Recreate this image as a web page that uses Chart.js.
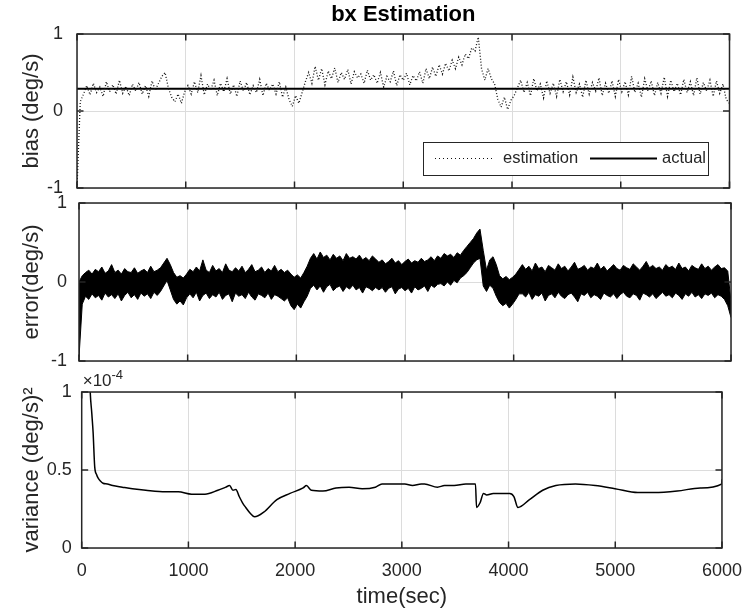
<!DOCTYPE html>
<html>
<head>
<meta charset="utf-8">
<title>bx Estimation</title>
<script src="https://cdn.jsdelivr.net/npm/chart.js@4.4.1/dist/chart.umd.min.js"></script>
<style>
  body { margin: 0; background: #fff; }
  #wrap { position: relative; width: 754px; height: 615px; overflow: hidden; }
  canvas { position: absolute; left: 0; }
</style>
</head>
<body>
<div id="wrap">
  <canvas id="biasChart" width="754" height="200" style="top:0px"></canvas>
  <canvas id="errorChart" width="754" height="183" style="top:190px"></canvas>
  <canvas id="varChart" width="754" height="245" style="top:370px"></canvas>
</div>
<script>
// sample times (sec) for the estimation / error traces
const timeSec = [
  0, 30, 60, 90, 120, 150, 180, 210, 240, 270, 300, 330, 360, 390, 420, 450, 480, 510, 540, 570,
  600, 630, 660, 690, 720, 750, 780, 810, 840, 870, 900, 930, 960, 990, 1020, 1050, 1080, 1110, 1140, 1170,
  1200, 1230, 1260, 1290, 1320, 1350, 1380, 1410, 1440, 1470, 1500, 1530, 1560, 1590, 1620, 1650, 1680, 1710, 1740, 1770,
  1800, 1830, 1860, 1890, 1920, 1950, 1980, 2010, 2040, 2070, 2100, 2130, 2160, 2190, 2220, 2250, 2280, 2310, 2340, 2370,
  2400, 2430, 2460, 2490, 2520, 2550, 2580, 2610, 2640, 2670, 2700, 2730, 2760, 2790, 2820, 2850, 2880, 2910, 2940, 2970,
  3000, 3030, 3060, 3090, 3120, 3150, 3180, 3210, 3240, 3270, 3300, 3330, 3360, 3390, 3420, 3450, 3480, 3510, 3540, 3570,
  3600, 3630, 3660, 3690, 3720, 3750, 3780, 3810, 3840, 3870, 3900, 3930, 3960, 3990, 4020, 4050, 4080, 4110, 4140, 4170,
  4200, 4230, 4260, 4290, 4320, 4350, 4380, 4410, 4440, 4470, 4500, 4530, 4560, 4590, 4620, 4650, 4680, 4710, 4740, 4770,
  4800, 4830, 4860, 4890, 4920, 4950, 4980, 5010, 5040, 5070, 5100, 5130, 5160, 5190, 5220, 5250, 5280, 5310, 5340, 5370,
  5400, 5430, 5460, 5490, 5520, 5550, 5580, 5610, 5640, 5670, 5700, 5730, 5760, 5790, 5820, 5850, 5880, 5910, 5940, 5970,
  6000
];

// bias estimate (deg/s)
const estimation = [
  -1.00, 0.12, 0.22,
  0.33, 0.21, 0.36, 0.24, 0.31, 0.19, 0.38, 0.25, 0.34, 0.22, 0.40, 0.23, 0.32, 0.20, 0.35, 0.26, 0.37, 0.22, 0.33, 0.19, 0.39, 0.27, 0.36,
  0.45, 0.50, 0.30,
  0.18, 0.12, 0.22, 0.10, 0.25,
  0.33, 0.22, 0.38, 0.24, 0.46, 0.21, 0.35, 0.27, 0.40, 0.20, 0.36, 0.25, 0.42, 0.22, 0.34, 0.19, 0.39, 0.26, 0.37, 0.21, 0.33, 0.24, 0.41, 0.20, 0.36, 0.27, 0.35, 0.22, 0.38, 0.18, 0.31,
  0.15, 0.06, 0.20, 0.10, 0.24, 0.38,
  0.50, 0.36, 0.58, 0.40, 0.55, 0.34, 0.52, 0.42, 0.56, 0.37, 0.50, 0.41, 0.54, 0.35, 0.51, 0.43, 0.48, 0.36, 0.53, 0.40, 0.47,
  0.36, 0.50, 0.31, 0.45, 0.38, 0.52, 0.33, 0.47, 0.40, 0.49, 0.34, 0.46, 0.39, 0.51, 0.36, 0.55, 0.42, 0.57, 0.45,
  0.60, 0.48, 0.62, 0.52, 0.66, 0.55, 0.70, 0.60,
  0.74, 0.68, 0.82, 0.78, 0.96,
  0.55, 0.40,
  0.55, 0.42, 0.35,
  0.15, 0.05, 0.18, 0.02, 0.14, 0.20, 0.30,
  0.40, 0.24, 0.37, 0.20, 0.42, 0.26, 0.35, 0.17, 0.39, 0.23, 0.36, 0.19, 0.41, 0.25, 0.38, 0.21, 0.44, 0.24, 0.35, 0.18, 0.40, 0.22, 0.37, 0.26, 0.43, 0.20, 0.36, 0.23, 0.39, 0.19, 0.41, 0.25,
  0.38, 0.21, 0.45, 0.24, 0.36, 0.18, 0.42, 0.26, 0.39, 0.20, 0.37, 0.23, 0.44, 0.19, 0.40, 0.25, 0.36, 0.21, 0.41, 0.24, 0.38, 0.20, 0.43, 0.22, 0.37, 0.26, 0.40, 0.19, 0.39, 0.23, 0.35, 0.15,
  0.10
];

// true bias (deg/s)
const actualTime = [0, 6000];
const actualBias = [0.29, 0.29];

// error (deg/s): upper and lower edge of the noisy band
const errUpper = [
  0.00,
  0.08, 0.12, 0.15, 0.10, 0.16, 0.13, 0.19, 0.11, 0.14, 0.22, 0.12, 0.15, 0.10, 0.17, 0.13, 0.12, 0.18, 0.11, 0.14, 0.16, 0.12, 0.20, 0.13, 0.15, 0.18,
  0.24, 0.30, 0.22,
  0.12, 0.06, 0.08, 0.05, 0.10,
  0.16, 0.13, 0.19, 0.14, 0.28, 0.15, 0.12, 0.21, 0.14, 0.17, 0.12, 0.23, 0.15, 0.13, 0.18, 0.14, 0.20, 0.12, 0.16, 0.22, 0.13, 0.15, 0.19, 0.12, 0.17, 0.14, 0.21, 0.13, 0.16, 0.12, 0.15,
  0.10, 0.06, 0.09, 0.05, 0.12, 0.20,
  0.30, 0.36, 0.29, 0.38, 0.31, 0.34, 0.28, 0.35, 0.30, 0.33, 0.27, 0.36, 0.30, 0.32, 0.29, 0.34, 0.28, 0.31, 0.27, 0.33, 0.29,
  0.25, 0.28, 0.23, 0.26, 0.30, 0.24, 0.27, 0.22, 0.26, 0.29, 0.24, 0.27, 0.25, 0.30, 0.26, 0.28, 0.32, 0.27, 0.33,
  0.30, 0.36, 0.33, 0.35, 0.31, 0.37, 0.34, 0.40,
  0.45, 0.50, 0.55, 0.62, 0.67,
  0.40, 0.15,
  0.28, 0.32, 0.22,
  0.08, 0.04, 0.07, 0.03, 0.06, 0.10, 0.16,
  0.22, 0.16, 0.20, 0.14, 0.24, 0.17, 0.19, 0.13, 0.21, 0.18, 0.15, 0.23, 0.17, 0.20, 0.14, 0.19, 0.25, 0.16, 0.18, 0.21, 0.15, 0.19, 0.17, 0.24, 0.16, 0.20, 0.14, 0.18, 0.22, 0.17, 0.15, 0.21,
  0.18, 0.16, 0.23, 0.19, 0.15, 0.20, 0.26, 0.18, 0.21, 0.17, 0.19, 0.15, 0.22, 0.18, 0.20, 0.16, 0.24, 0.17, 0.19, 0.14, 0.21, 0.18, 0.16, 0.23, 0.17, 0.20, 0.15, 0.19, 0.22, 0.17, 0.18, 0.14,
  -0.25
];
const errLower = [
  -0.95,
  -0.28, -0.18, -0.22, -0.15, -0.20, -0.17, -0.23, -0.14, -0.19, -0.16, -0.21, -0.15, -0.24, -0.17, -0.13, -0.20, -0.16, -0.22, -0.14, -0.18, -0.15, -0.21, -0.13, -0.17, -0.12,
  -0.05, 0.02, -0.10,
  -0.22, -0.28, -0.24, -0.29, -0.20,
  -0.15, -0.20, -0.13, -0.24, -0.17, -0.14, -0.21, -0.16, -0.19, -0.13, -0.22, -0.17, -0.15, -0.25, -0.14, -0.18, -0.16, -0.21, -0.13, -0.19, -0.23, -0.15, -0.17, -0.20, -0.14, -0.22, -0.16, -0.18, -0.21, -0.24, -0.20,
  -0.30, -0.35, -0.28, -0.33, -0.25, -0.18,
  -0.08, -0.04, -0.10, -0.05, -0.13, -0.06, -0.03, -0.11, -0.07, -0.05, -0.12, -0.06, -0.09, -0.04, -0.10, -0.07, -0.14, -0.06, -0.08, -0.11, -0.07,
  -0.10, -0.07, -0.13, -0.08, -0.06, -0.15, -0.09, -0.07, -0.11, -0.08, -0.14, -0.06, -0.10, -0.08, -0.05, -0.12, -0.04, -0.07, -0.03,
  -0.02, -0.05, 0.00, -0.04, 0.02, -0.01, 0.05, 0.08,
  0.12, 0.18, 0.24, 0.28, 0.30,
  -0.05, -0.12,
  -0.04, -0.08, -0.18,
  -0.26, -0.30, -0.27, -0.33, -0.28, -0.22, -0.15,
  -0.15, -0.19, -0.13, -0.22, -0.16, -0.18, -0.14, -0.24, -0.17, -0.15, -0.20, -0.13, -0.18, -0.21, -0.16, -0.14, -0.19, -0.25, -0.15, -0.17, -0.13, -0.20, -0.16, -0.18, -0.22, -0.14, -0.17, -0.19, -0.15, -0.21, -0.16, -0.13,
  -0.18, -0.20, -0.15, -0.17, -0.23, -0.14, -0.16, -0.19, -0.15, -0.21, -0.17, -0.13, -0.18, -0.16, -0.20, -0.14, -0.17, -0.22, -0.15, -0.18, -0.13, -0.19, -0.16, -0.21, -0.15, -0.17, -0.14, -0.20, -0.16, -0.18, -0.22, -0.30,
  -0.45
];

// variance, in units of 1e-4 (deg/s)^2
const varTime = [
  0, 60, 77, 95, 107, 122, 140, 153, 175, 200, 240, 290, 380, 475, 600, 785, 905, 1030, 1155, 1276,
  1350, 1386, 1417, 1445, 1476, 1507, 1537, 1583, 1620, 1706, 1829, 1952, 2075, 2106, 2152, 2260, 2383, 2506, 2629, 2752,
  2814, 2900, 3028, 3100, 3182, 3213, 3334, 3400, 3490, 3600, 3690, 3700, 3733, 3765, 3795, 3857, 3918, 4011, 4050, 4088,
  4196, 4320, 4443, 4627, 4812, 4997, 5212, 5366, 5581, 5796, 5996, 6000
];
const varianceE4 = [
  3.0, 1.6, 1.05, 0.86, 0.74, 0.52, 0.47, 0.45, 0.43, 0.415, 0.41, 0.40, 0.39, 0.38, 0.37, 0.36, 0.36, 0.345, 0.345, 0.37,
  0.39, 0.40, 0.37, 0.375, 0.33, 0.29, 0.26, 0.22, 0.20, 0.23, 0.31, 0.35, 0.385, 0.40, 0.37, 0.365, 0.385, 0.39, 0.38, 0.39,
  0.41, 0.41, 0.41, 0.40, 0.41, 0.41, 0.39, 0.40, 0.40, 0.41, 0.41, 0.26, 0.29, 0.35, 0.34, 0.35, 0.35, 0.35, 0.33, 0.26,
  0.31, 0.37, 0.40, 0.41, 0.40, 0.38, 0.355, 0.355, 0.365, 0.385, 0.41, 0.44
];

const FONT = '"Liberation Sans", Arial, Helvetica, sans-serif';
const GRID = '#dcdcdc';
const INK = '#262626';

Chart.defaults.font.family = FONT;
Chart.defaults.color = INK;

function xy(xs, ys) {
  return xs.map((x, i) => ({ x: x, y: ys[i] }));
}

// plain number labels (1000 not 1,000; 1 not 1.0)
function plainTick(value) {
  return String(value);
}

// matlab style box with inward ticks on all four sides
const matlabBox = {
  id: 'matlabBox',
  afterDatasetsDraw(chart) {
    const { ctx, chartArea: a, scales } = chart;
    const len = 6.5;
    ctx.save();
    ctx.strokeStyle = INK;
    ctx.lineWidth = 1.5;
    ctx.beginPath();
    scales.x.ticks.forEach(t => {
      const px = scales.x.getPixelForValue(t.value);
      ctx.moveTo(px, a.top); ctx.lineTo(px, a.top + len);
      ctx.moveTo(px, a.bottom); ctx.lineTo(px, a.bottom - len);
    });
    scales.y.ticks.forEach(t => {
      const py = scales.y.getPixelForValue(t.value);
      ctx.moveTo(a.left, py); ctx.lineTo(a.left + len, py);
      ctx.moveTo(a.right, py); ctx.lineTo(a.right - len, py);
    });
    ctx.stroke();
    ctx.strokeRect(a.left, a.top, a.right - a.left, a.bottom - a.top);
    ctx.restore();
  }
};

// legend box drawn inside the bias plot (bottom right)
const biasLegend = {
  id: 'biasLegend',
  afterDraw(chart) {
    const { ctx, chartArea: a } = chart;
    const est = chart.data.datasets[0];
    const act = chart.data.datasets[1];
    const w = 285, h = 33;
    const bx = Math.round(a.right - 21.5 - w), by = Math.round(a.bottom - 13 - h);
    const cy = by + h / 2;
    ctx.save();
    ctx.fillStyle = '#fff';
    ctx.fillRect(bx, by, w, h);
    ctx.strokeStyle = INK;
    ctx.lineWidth = 1;
    ctx.strokeRect(bx + 0.5, by + 0.5, w, h);
    ctx.font = '16.5px ' + FONT;
    ctx.fillStyle = INK;
    ctx.textBaseline = 'middle';
    ctx.strokeStyle = est.borderColor;
    ctx.lineWidth = 1;
    ctx.setLineDash([1, 3]);
    ctx.beginPath(); ctx.moveTo(bx + 12, cy); ctx.lineTo(bx + 72, cy); ctx.stroke();
    ctx.fillText(est.label, bx + 80, cy);
    ctx.setLineDash([]);
    ctx.strokeStyle = act.borderColor;
    ctx.lineWidth = act.borderWidth;
    ctx.beginPath(); ctx.moveTo(bx + 167, cy); ctx.lineTo(bx + 234, cy); ctx.stroke();
    ctx.fillText(act.label, bx + 239, cy);
    ctx.restore();
  }
};

// "x10^-4" multiplier above the variance axis
const exponentLabel = {
  id: 'exponentLabel',
  afterDraw(chart) {
    const { ctx, chartArea: a } = chart;
    ctx.save();
    ctx.fillStyle = INK;
    ctx.textBaseline = 'alphabetic';
    ctx.font = '17px ' + FONT;
    ctx.fillText('\u00d710', a.left + 1, a.top - 6);
    const w = ctx.measureText('\u00d710').width;
    ctx.font = '13px ' + FONT;
    ctx.fillText('-4', a.left + 1 + w, a.top - 13);
    ctx.restore();
  }
};

function timeAxis(height, showTicks) {
  return {
    type: 'linear',
    min: 0,
    max: 6000,
    afterFit: scale => { scale.height = height; },
    border: { display: false },
    grid: { color: GRID, drawTicks: false },
    ticks: { display: showTicks, stepSize: 1000, padding: 12, maxRotation: 0, font: { size: 18 }, callback: plainTick },
    title: { display: showTicks, text: 'time(sec)', font: { size: 22 }, padding: { top: 0, bottom: 5 } }
  };
}

function valueAxis(width, min, max, step, label, tickPad) {
  return {
    type: 'linear',
    min: min,
    max: max,
    // fixed width so the boxes sit where the subplots are; labels may overhang
    afterFit: scale => {
      scale.width = width;
      scale.paddingTop = 0;
      scale.paddingBottom = 0;
    },
    border: { display: false },
    grid: { color: GRID, drawTicks: false },
    ticks: { stepSize: step, padding: tickPad, font: { size: 18 }, callback: plainTick },
    title: { display: true, text: label, font: { size: 22 }, padding: { top: 19, bottom: 0 } }
  };
}

function baseOptions(padding) {
  return {
    responsive: false,
    animation: false,
    events: [],
    layout: { padding: padding },
    plugins: {
      legend: { display: false },
      tooltip: { enabled: false }
    }
  };
}

// top: bias estimation
const biasOpts = baseOptions({ left: 0, right: 24.5, top: 0, bottom: 12 });
biasOpts.plugins.title = {
  display: true,
  text: 'bx Estimation',
  color: '#000',
  fullSize: false,
  font: { size: 22, weight: 'bold' },
  padding: { top: 2, bottom: 5.6 }
};
biasOpts.scales = {
  x: timeAxis(0, false),
  y: valueAxis(77, -1, 1, 1, 'bias (deg/s)', 14)
};
new Chart(document.getElementById('biasChart'), {
  type: 'line',
  data: {
    datasets: [
      {
        label: 'estimation',
        data: xy(timeSec, estimation),
        borderColor: '#111',
        borderWidth: 1.3,
        borderDash: [1, 2],
        pointRadius: 0,
        tension: 0
      },
      {
        label: 'actual',
        data: xy(actualTime, actualBias),
        borderColor: '#000',
        borderWidth: 2,
        pointRadius: 0
      }
    ]
  },
  options: biasOpts,
  plugins: [matlabBox, biasLegend]
});

// middle: estimation error
const errOpts = baseOptions({ left: 0, right: 23, top: 13, bottom: 12 });
errOpts.scales = {
  x: timeAxis(0, false),
  y: valueAxis(79, -1, 1, 1, 'error(deg/s)', 12)
};
new Chart(document.getElementById('errorChart'), {
  type: 'line',
  data: {
    datasets: [
      {
        label: 'error upper',
        data: xy(timeSec, errUpper),
        borderColor: '#000',
        backgroundColor: '#000',
        borderWidth: 1,
        pointRadius: 0,
        fill: '+1'
      },
      {
        label: 'error lower',
        data: xy(timeSec, errLower),
        borderColor: '#000',
        borderWidth: 1,
        pointRadius: 0,
        fill: false
      }
    ]
  },
  options: errOpts,
  plugins: [matlabBox]
});

// bottom: variance
const varOpts = baseOptions({ left: 0, right: 21, top: 22, bottom: 0 });
varOpts.scales = {
  x: timeAxis(67, true),
  y: valueAxis(81.7, 0, 1, 0.5, 'variance (deg/s)\u00b2', 10)
};
new Chart(document.getElementById('varChart'), {
  type: 'line',
  data: {
    datasets: [
      {
        label: 'variance',
        data: xy(varTime, varianceE4),
        borderColor: '#000',
        borderWidth: 1.5,
        pointRadius: 0,
        cubicInterpolationMode: 'monotone'
      }
    ]
  },
  options: varOpts,
  plugins: [matlabBox, exponentLabel]
});
</script>
</body>
</html>
